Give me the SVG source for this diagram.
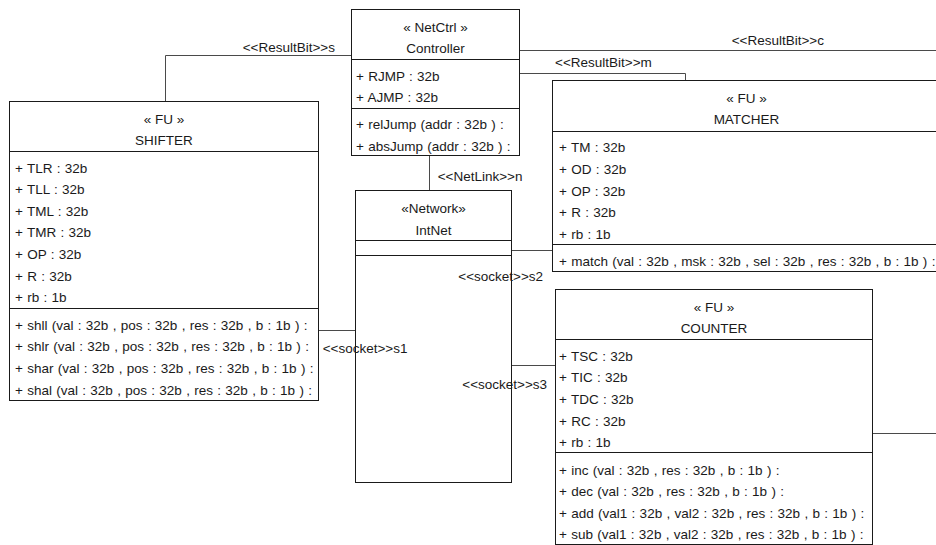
<svg xmlns="http://www.w3.org/2000/svg" width="936" height="545" viewBox="0 0 936 545">
  <style>
    .box { fill: #ffffff; stroke: #1a1a1a; stroke-width: 1; }
    .sep { stroke: #1a1a1a; stroke-width: 1; fill: none; }
    .wire { stroke: #4a4a4a; stroke-width: 1; fill: none; }
    text { font-family: "Liberation Sans", Arial, sans-serif; font-size: 13.5px; fill: #1a1a1a; }
    .hd { text-anchor: middle; }
    .row { word-spacing: 0.55px; }
  </style>
  <rect width="936" height="545" fill="#ffffff"/>

  <!-- connectors -->
  <g id="connectors">
    <path class="wire" d="M165.5 101.5 V55.5 H351.5"/>
    <path class="wire" d="M519.5 50.5 H936"/>
    <path class="wire" d="M519.5 73.5 H685.5 V80.5"/>
    <path class="wire" d="M429.5 155.5 V190.5"/>
    <path class="wire" d="M318.5 330.5 H355.5"/>
    <path class="wire" d="M511.5 250.5 H552.5"/>
    <path class="wire" d="M511.5 365.5 H555.5"/>
    <path class="wire" d="M872.5 433.5 H936"/>
  </g>

  <!-- SHIFTER -->
  <g id="shifter">
    <rect class="box" x="9.5" y="101.5" width="309" height="299"/>
    <path class="sep" d="M9.5 151.5 H318.5 M9.5 308.5 H318.5"/>
    <text class="hd" x="164" y="123.8">« FU »</text>
    <text class="hd" x="164" y="145">SHIFTER</text>
    <g class="row">
      <text x="15" y="172.5">+ TLR : 32b</text>
      <text x="15" y="194.1">+ TLL : 32b</text>
      <text x="15" y="215.7">+ TML : 32b</text>
      <text x="15" y="237.3">+ TMR : 32b</text>
      <text x="15" y="258.9">+ OP : 32b</text>
      <text x="15" y="280.5">+ R : 32b</text>
      <text x="15" y="302.1">+ rb : 1b</text>
      <text x="15" y="329.8">+ shll (val : 32b , pos : 32b , res : 32b , b : 1b ) :</text>
      <text x="15" y="351.4">+ shlr (val : 32b , pos : 32b , res : 32b , b : 1b ) :</text>
      <text x="15" y="373">+ shar (val : 32b , pos : 32b , res : 32b , b : 1b ) :</text>
      <text x="15" y="394.6">+ shal (val : 32b , pos : 32b , res : 32b , b : 1b ) :</text>
    </g>
  </g>

  <!-- Controller -->
  <g id="controller">
    <rect class="box" x="351.5" y="9.5" width="168" height="146"/>
    <path class="sep" d="M351.5 59.5 H519.5 M351.5 108.5 H519.5"/>
    <text class="hd" x="435.5" y="31.8">« NetCtrl »</text>
    <text class="hd" x="435.5" y="53">Controller</text>
    <g class="row">
      <text x="356" y="80.5">+ RJMP : 32b</text>
      <text x="356" y="102.1">+ AJMP : 32b</text>
      <text x="356" y="129">+ relJump (addr : 32b ) :</text>
      <text x="356" y="150.6">+ absJump (addr : 32b ) :</text>
    </g>
  </g>

  <!-- MATCHER -->
  <g id="matcher">
    <rect class="box" x="552.5" y="80.5" width="390" height="191"/>
    <path class="sep" d="M552.5 131.5 H942.5 M552.5 244.5 H942.5"/>
    <text class="hd" x="746.5" y="102.8">« FU »</text>
    <text class="hd" x="746.5" y="124">MATCHER</text>
    <g class="row">
      <text x="559" y="152.3">+ TM : 32b</text>
      <text x="559" y="173.9">+ OD : 32b</text>
      <text x="559" y="195.5">+ OP : 32b</text>
      <text x="559" y="217.1">+ R : 32b</text>
      <text x="559" y="238.7">+ rb : 1b</text>
      <text x="559" y="265.8">+ match (val : 32b , msk : 32b , sel : 32b , res : 32b , b : 1b ) :</text>
    </g>
  </g>

  <!-- IntNet -->
  <g id="intnet">
    <rect class="box" x="355.5" y="190.5" width="156" height="292"/>
    <path class="sep" d="M355.5 240.5 H511.5 M355.5 255.5 H511.5"/>
    <text class="hd" x="433.5" y="212.8">«Network»</text>
    <text class="hd" x="433.5" y="234.5">IntNet</text>
  </g>

  <!-- COUNTER -->
  <g id="counter">
    <rect class="box" x="555.5" y="289.5" width="317" height="255"/>
    <path class="sep" d="M555.5 339.5 H872.5 M555.5 452.5 H872.5"/>
    <text class="hd" x="714" y="311.8">« FU »</text>
    <text class="hd" x="714" y="333">COUNTER</text>
    <g class="row">
      <text x="559" y="360.8">+ TSC : 32b</text>
      <text x="559" y="382.4">+ TIC : 32b</text>
      <text x="559" y="404">+ TDC : 32b</text>
      <text x="559" y="425.6">+ RC : 32b</text>
      <text x="559" y="447.2">+ rb : 1b</text>
      <text x="559" y="474.5">+ inc (val : 32b , res : 32b , b : 1b ) :</text>
      <text x="559" y="496.1">+ dec (val : 32b , res : 32b , b : 1b ) :</text>
      <text x="559" y="517.7">+ add (val1 : 32b , val2 : 32b , res : 32b , b : 1b ) :</text>
      <text x="559" y="539.3">+ sub (val1 : 32b , val2 : 32b , res : 32b , b : 1b ) :</text>
    </g>
  </g>

  <!-- connector labels -->
  <g id="labels">
    <text x="242.7" y="52">&lt;&lt;ResultBit&gt;&gt;s</text>
    <text x="731.7" y="45">&lt;&lt;ResultBit&gt;&gt;c</text>
    <text x="555" y="66.5">&lt;&lt;ResultBit&gt;&gt;m</text>
    <text x="437.7" y="181">&lt;&lt;NetLink&gt;&gt;n</text>
    <text x="322.7" y="353">&lt;&lt;socket&gt;&gt;s1</text>
    <text x="458.3" y="281">&lt;&lt;socket&gt;&gt;s2</text>
    <text x="462.3" y="389">&lt;&lt;socket&gt;&gt;s3</text>
  </g>
</svg>
